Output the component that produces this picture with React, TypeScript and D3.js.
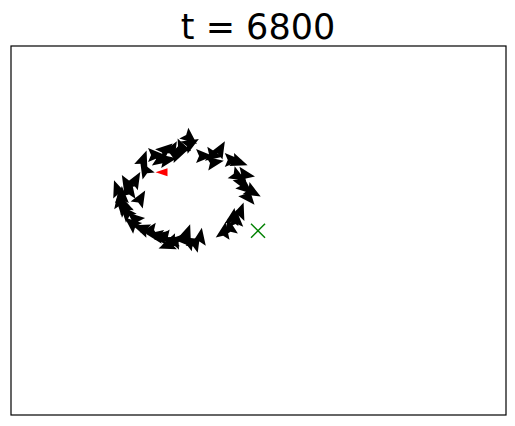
import * as d3 from "d3";

// ---------------------------------------------------------------
// Data (positions in plot units, heading in degrees, 0 = +x, CCW)
// ---------------------------------------------------------------

const agentX = [
  36.2, 31.1, 29.1, 32.5, 30.1, 26.7, 27.1, 38.8, 40.8, 42.2, 44.6, 45.9,
  45.7, 47.3, 47.3, 48.7, 46.7, 46.3, 45.5, 44.2, 43.0, 38.2, 37.2, 34.5,
  33.1, 31.7, 30.1, 28.1, 26.5, 25.1, 23.4, 23.0, 22.4, 24.0, 23.4, 25.1,
  22.0, 26.1, 33.7, 34.5, 31.5, 36.0, 32.3, 29.3, 21.5, 22.6, 24.5, 35.5,
  30.9, 41.0, 47.9, 44.8, 36.0,
];
const agentY = [
  54.7, 53.5, 52.5, 53.5, 51.5, 51.5, 49.5, 52.3, 52.5, 53.5, 51.5, 51.1,
  48.3, 48.5, 45.9, 45.1, 46.9, 41.0, 39.4, 37.8, 37.0, 35.8, 34.7, 35.6,
  35.2, 34.3, 36.0, 37.2, 37.6, 39.6, 40.8, 42.2, 44.2, 45.3, 46.7, 47.3,
  43.2, 43.6, 52.7, 54.0, 51.5, 35.0, 34.9, 36.2, 45.5, 41.8, 38.6, 36.6,
  35.8, 51.0, 44.0, 39.8, 56.0,
];
const agentHeading = [
  30, 40, 0, 60, -10, 70, 120, 0, -10, 60, 0, -20,
  -30, -10, -40, -30, -60, 70, 90, 100, 80, 80, 60, 180,
  160, 200, 170, 190, 160, 140, 130, 110, 90, 80, 120, 60,
  100, 60, 20, -20, 10, 150, 200, 170, 110, 130, 140, 70,
  190, 10, -50, 80, -40,
];

const leaderX = [30.4];
const leaderY = [49.0];
const leaderHeading = [180];

const targetX = [49.9];
const targetY = [37.2];

const title = "t = 6800";

// ---------------------------------------------------------------

const W = 515;
const H = 426;
const margin = { top: 46, right: 9, bottom: 11, left: 11 };
const innerW = W - margin.left - margin.right;
const innerH = H - margin.top - margin.bottom;

const xScale = d3.scaleLinear().domain([0, 100]).range([0, innerW]);
const yScale = d3.scaleLinear().domain([0, 74.5]).range([innerH, 0]);

// arrow-head glyph pointing to +x
const arrowPath = (() => {
  const p = d3.path();
  p.moveTo(10, 0);
  p.lineTo(-7, -7);
  p.lineTo(-4, 0);
  p.lineTo(-7, 7);
  p.closePath();
  return p.toString();
})();

export default function App() {
  const agents = agentX.map((x, i) => ({ x, y: agentY[i], h: agentHeading[i] }));
  const leaders = leaderX.map((x, i) => ({ x, y: leaderY[i], h: leaderHeading[i] }));

  return (
    <svg
      width={W}
      height={H}
      style={{ position: "absolute", left: 0, top: 0, background: "#fff" }}
      fontFamily="DejaVu Sans"
    >
      <text x={W / 2 + 0.5} y={39} textAnchor="middle" fontSize={35} fill="#000">
        {title}
      </text>
      <g transform={`translate(${margin.left},${margin.top})`}>
        {agents.map((d, i) => (
          <path
            key={i}
            d={arrowPath}
            fill="#000"
            transform={`translate(${xScale(d.x)},${yScale(d.y)}) rotate(${-d.h})`}
          />
        ))}
        {leaders.map((d, i) => (
          <path
            key={i}
            d={"M6,-4L-6,0L6,4Z"}
            fill="#ff0000"
            transform={`translate(${xScale(d.x)},${yScale(d.y)}) rotate(${180 - d.h})`}
          />
        ))}
        {targetX.map((x, i) => {
          const cx = xScale(x);
          const cy = yScale(targetY[i]);
          const r = 7;
          return (
            <g key={i} stroke="#008000" strokeWidth={1.5}>
              <line x1={cx - r} y1={cy - r} x2={cx + r} y2={cy + r} />
              <line x1={cx - r} y1={cy + r} x2={cx + r} y2={cy - r} />
            </g>
          );
        })}
        <rect x={0} y={0} width={innerW} height={innerH} fill="none" stroke="#000" strokeWidth={1.2} />
      </g>
    </svg>
  );
}
